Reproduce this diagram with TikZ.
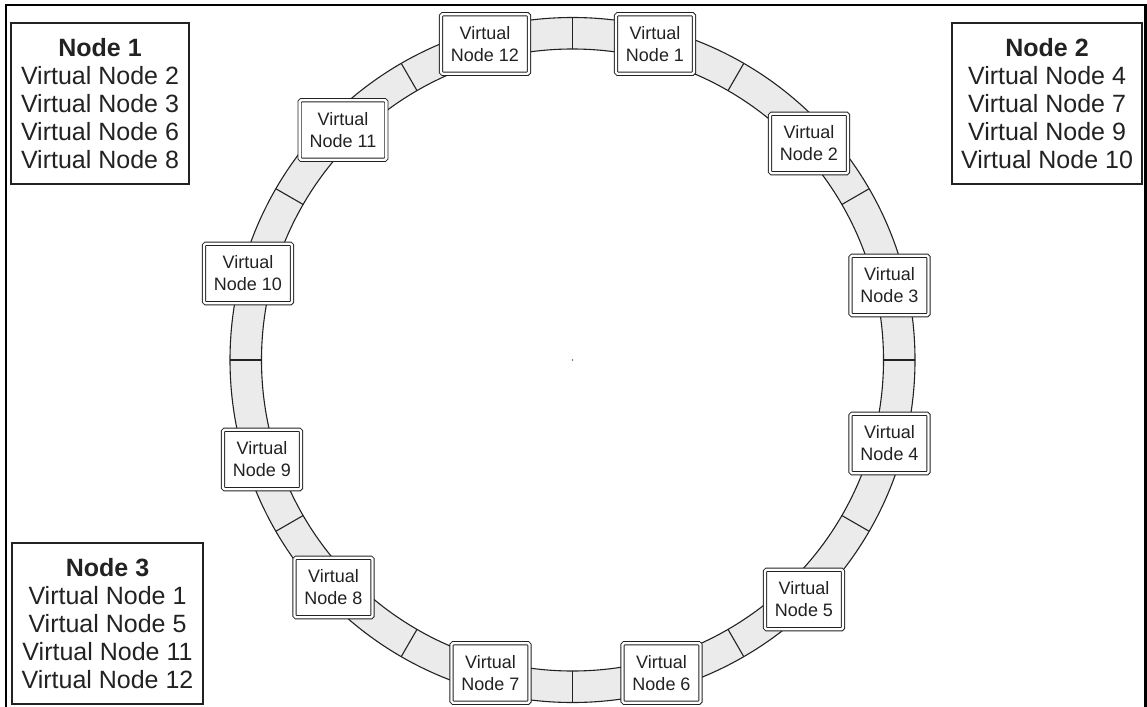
\documentclass[tikz,border=0pt]{standalone}
\usepackage{fontspec}
\setmainfont{Liberation Sans}
\usetikzlibrary{calc}
\definecolor{ringgray}{HTML}{EBEBEB}
\definecolor{ink}{HTML}{222222}
\begin{document}
\begin{tikzpicture}[x=1pt,y=-1pt,
  vbox/.style={draw=ink, line width=0.9pt, double=white, double distance=2.4pt, fill=white, rounded corners=1.5pt, inner xsep=10pt, inner ysep=0pt, minimum height=59.5pt, align=center, font=\fontsize{18}{22}\selectfont, text=ink},
  hostbox/.style={draw=ink, line width=1.2pt, fill=white, align=center, font=\fontsize{25}{28}\selectfont, text=ink, inner sep=0pt, minimum height=161pt},
  ringline/.style={draw=ink, line width=1.1pt}]
\useasboundingbox (0,0) rectangle (1147,706);
\coordinate (c) at (572.5,360);
% ring
\fill[ringgray, even odd rule] (c) circle[radius=342.5pt] (c) circle[radius=311pt];
\draw[ringline] (c) circle[radius=342.5pt];
\draw[ringline] (c) circle[radius=311pt];
\foreach \a in {0,30,...,330}
  \draw[ringline] ($(c)+(\a:311pt)$) -- ($(c)+(\a:342.5pt)$);
\fill[ink!70] (c) circle[radius=0.8pt];
% virtual nodes
\node[vbox] (vn1)  at (655,44)      {Virtual\\Node 1};
\node[vbox] (vn2)  at (809,143.5)   {Virtual\\Node 2};
\node[vbox] (vn3)  at (889.5,285.5) {Virtual\\Node 3};
\node[vbox] (vn4)  at (889.5,443.5) {Virtual\\Node 4};
\node[vbox] (vn5)  at (804,599.5)   {Virtual\\Node 5};
\node[vbox] (vn6)  at (661.5,673)   {Virtual\\Node 6};
\node[vbox] (vn7)  at (490.5,673)   {Virtual\\Node 7};
\node[vbox] (vn8)  at (333.5,587.5) {Virtual\\Node 8};
\node[vbox] (vn9)  at (262,459.5)   {Virtual\\Node 9};
\node[vbox] (vn10) at (248,273.5)   {Virtual\\Node 10};
\node[vbox] (vn11) at (343,130)     {Virtual\\Node 11};
\node[vbox] (vn12) at (485,44)      {Virtual\\Node 12};
% host nodes
\node[hostbox, minimum width=178pt] (n1) at (100,103.5)
  {\textbf{Node 1}\\Virtual Node 2\\Virtual Node 3\\Virtual Node 6\\Virtual Node 8};
\node[hostbox, minimum width=190pt] (n2) at (1047,103.5)
  {\textbf{Node 2}\\Virtual Node 4\\Virtual Node 7\\Virtual Node 9\\Virtual Node 10};
\node[hostbox, minimum width=191pt] (n3) at (107.5,623.5)
  {\textbf{Node 3}\\Virtual Node 1\\Virtual Node 5\\Virtual Node 11\\Virtual Node 12};
% frame
\draw[line width=2.6pt, black] (6,5) rectangle (1145.5,712);
\end{tikzpicture}
\end{document}
